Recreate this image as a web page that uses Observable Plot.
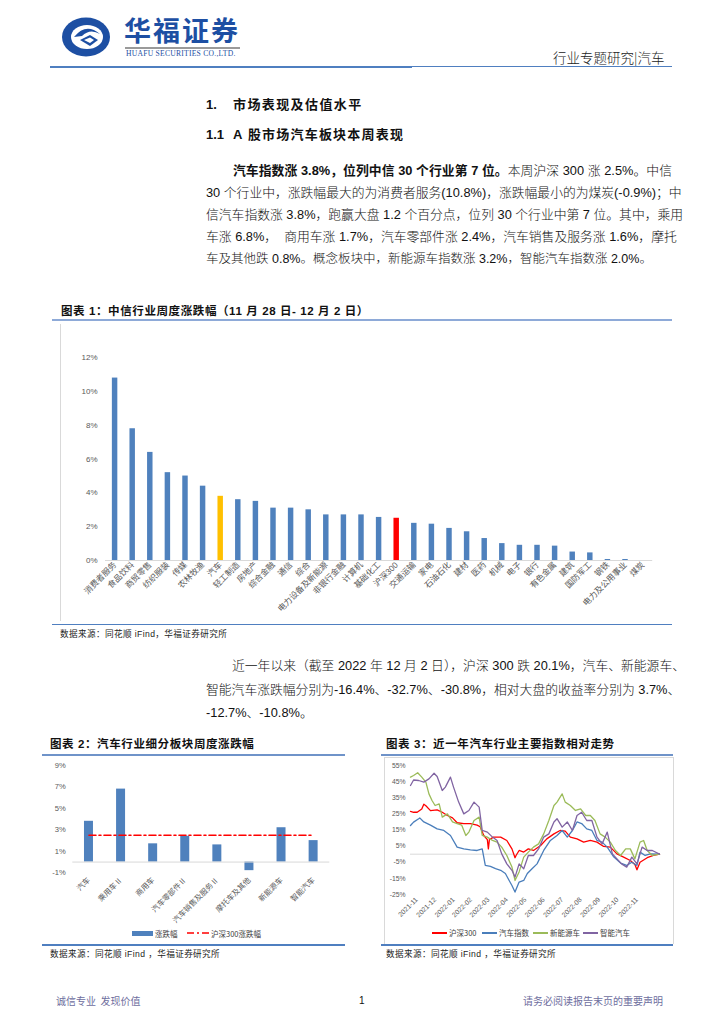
<!DOCTYPE html>
<html>
<head>
<meta charset="utf-8">
<script src="https://cdn.jsdelivr.net/npm/d3@7"></script>
<script src="https://cdn.jsdelivr.net/npm/@observablehq/plot@0.6"></script>
<style>
  html,body{margin:0;padding:0;background:#fff;}
  body{width:724px;height:1024px;position:relative;overflow:hidden;font-family:"Liberation Sans","Noto Sans CJK SC",sans-serif;color:#111;}
  .abs{position:absolute;white-space:nowrap;}
  .ln{position:absolute;white-space:nowrap;font-size:12.8px;line-height:16px;height:16px;text-align:justify;text-align-last:justify;font-weight:300;}
  .ln b{font-weight:bold;}
  .hd{position:absolute;white-space:nowrap;font-weight:bold;font-size:13px;line-height:16px;}
  .ft{position:absolute;white-space:nowrap;font-weight:bold;font-size:11.5px;line-height:14px;letter-spacing:0.6px;}
  .src{position:absolute;white-space:nowrap;font-size:8.6px;line-height:12px;color:#222;letter-spacing:0.4px;}
  .rule{position:absolute;}
  .leg{position:absolute;white-space:nowrap;font-size:7.5px;line-height:10px;color:#404040;font-family:"Noto Sans CJK SC",sans-serif;}
</style>
</head>
<body>
<!-- header -->
<svg class="abs" style="left:60px;top:16px" width="52" height="42" viewBox="0 0 52 42">
  <ellipse cx="26" cy="21" rx="24" ry="19.5" fill="#1d4fa3"/>
  <ellipse cx="27" cy="21" rx="16" ry="12" fill="#fff"/>
  <path d="M14 21 Q26 6 40 18 Q30 12 22 20 Z" fill="#1d4fa3"/>
  <path d="M20 24 L30 19 L38 24 L30 30 Z" fill="#1d4fa3"/>
  <path d="M24 24 L30 21.5 L34 24 L30 27 Z" fill="#fff"/>
</svg>
<div class="abs" style="left:124px;top:13px;font-size:27px;line-height:34px;font-weight:bold;color:#1d4fa3;letter-spacing:2px;font-family:'Noto Sans CJK SC'">华福证券</div>
<div class="rule" style="left:125px;top:47px;width:115px;height:1.5px;background:#9a9a9a"></div>
<div class="abs" style="left:126px;top:49px;font-size:7.6px;line-height:9px;color:#1d4fa3;font-family:'Liberation Serif';letter-spacing:0.25px">HUAFU SECURITIES CO.,LTD.</div>
<div class="abs" style="left:553px;top:48px;font-size:13.5px;line-height:18px;color:#222;font-family:'Noto Sans CJK SC';font-weight:300">行业专题研究|汽车</div>
<div class="rule" style="left:50px;top:65.5px;width:362px;height:2.2px;background:#4f7fc0"></div>
<div class="rule" style="left:412px;top:66px;width:260px;height:1.4px;background:#4f7fc0"></div>

<!-- section headings -->
<div class="hd" style="left:206px;top:97px">1.</div>
<div class="hd" style="left:233px;top:97px;letter-spacing:1.4px">市场表现及估值水平</div>
<div class="hd" style="left:206px;top:127px">1.1</div>
<div class="hd" style="left:233px;top:127px;letter-spacing:1.2px">A 股市场汽车板块本周表现</div>

<!-- paragraph 1 -->
<div class="ln" style="left:233px;top:163px;width:439px"><b>汽车指数涨 3.8%，位列中信 30 个行业第 7 位。</b>本周沪深 300 涨 2.5%。中信</div>
<div class="ln" style="left:206px;top:185px;width:466px">30 个行业中，涨跌幅最大的为消费者服务(10.8%)，涨跌幅最小的为煤炭(-0.9%)；中</div>
<div class="ln" style="left:206px;top:207px;width:466px">信汽车指数涨 3.8%，跑赢大盘 1.2 个百分点，位列 30 个行业中第 7 位。其中，乘用</div>
<div class="ln" style="left:206px;top:229px;width:466px">车涨 6.8%，&nbsp;&nbsp;商用车涨 1.7%，汽车零部件涨 2.4%，汽车销售及服务涨 1.6%，摩托</div>
<div class="ln" style="left:206px;top:251px;text-align:left;text-align-last:left;font-size:12.5px">车及其他跌 0.8%。概念板块中，新能源车指数涨 3.2%，智能汽车指数涨 2.0%。</div>

<!-- figure 1 -->
<div class="ft" style="left:61px;top:304px">图表 1：中信行业周度涨跌幅（11 月 28 日- 12 月 2 日）</div>
<div class="rule" style="left:52px;top:319px;width:620px;height:1.5px;background:#8eaad8"></div>
<div class="rule" style="left:60px;top:324px;width:1px;height:297px;background:#d9d9d9"></div>
<div id="c1" class="abs" style="left:60px;top:325px"></div>
<div class="rule" style="left:52px;top:623.5px;width:620px;height:1.5px;background:#4f7fc0"></div>
<div class="src" style="left:60px;top:628px">数据来源：同花顺 iFind，华福证券研究所</div>

<!-- paragraph 2 -->
<div class="ln" style="left:232px;top:658px;width:432px">近一年以来（截至 2022 年 12 月 2 日），沪深 300 跌 20.1%，汽车、新能源车、</div>
<div class="ln" style="left:206px;top:682px;width:466px">智能汽车涨跌幅分别为-16.4%、-32.7%、-30.8%，相对大盘的收益率分别为 3.7%、</div>
<div class="ln" style="left:206px;top:705px;text-align:left;text-align-last:left">-12.7%、-10.8%。</div>

<!-- figure 2 -->
<div class="ft" style="left:50px;top:737px">图表 2：汽车行业细分板块周度涨跌幅</div>
<div class="rule" style="left:42px;top:754px;width:303px;height:2px;background:#6f93c9"></div>
<div id="c2" class="abs" style="left:40px;top:757px"></div>
<div class="abs" style="left:132px;top:931px;width:21px;height:5px;background:#4f81bd"></div>
<div class="leg" style="left:155px;top:928.5px">涨跌幅</div>
<svg class="abs" style="left:186px;top:930px" width="24" height="6"><line x1="1" y1="3" x2="23" y2="3" stroke="#ff0000" stroke-width="1.6" stroke-dasharray="7,3,2,3"/></svg>
<div class="leg" style="left:211px;top:928.5px">沪深300涨跌幅</div>
<div class="rule" style="left:42px;top:944px;width:303px;height:1.5px;background:#4f7fc0"></div>
<div class="src" style="left:50px;top:948px">数据来源：同花顺 iFind ，华福证券研究所</div>

<!-- figure 3 -->
<div class="ft" style="left:386px;top:737px">图表 3：近一年汽车行业主要指数相对走势</div>
<div class="rule" style="left:381px;top:754px;width:292px;height:2px;background:#6f93c9"></div>
<div class="abs" style="left:384px;top:757px;width:288px;height:186px;border:1px solid #d9d9d9;border-bottom:none"></div>
<div id="c3" class="abs" style="left:385px;top:757px"></div>
<div id="leg3"></div>
<div class="rule" style="left:381px;top:944px;width:292px;height:1.5px;background:#4f7fc0"></div>
<div class="src" style="left:386px;top:948px">数据来源：同花顺 iFind ，华福证券研究所</div>

<!-- footer -->
<div class="abs" style="left:56px;top:995px;font-size:10px;line-height:12px;color:#6e6e9e;font-family:'Noto Sans CJK SC'">诚信专业&nbsp;&nbsp;发现价值</div>
<div class="abs" style="left:359px;top:995px;font-size:10px;line-height:12px;color:#111">1</div>
<div class="abs" style="left:523px;top:995px;font-size:10px;line-height:12px;color:#6e6e9e;font-family:'Noto Sans CJK SC'">请务必阅读报告末页的重要声明</div>

<script>
// ---------- Figure 1 data ----------
const industries = ["消费者服务","食品饮料","商贸零售","纺织服装","传媒","农林牧渔","汽车","轻工制造","房地产","综合金融","通信","综合","电力设备及新能源","非银行金融","计算机","基础化工","沪深300","交通运输","家电","石油石化","建材","医药","机械","电子","银行","有色金属","建筑","国防军工","钢铁","电力及公用事业","煤炭"];
const weeklyChange = [10.8,7.8,6.4,5.2,5.0,4.4,3.8,3.6,3.5,3.1,3.1,3.0,2.7,2.7,2.7,2.55,2.5,2.2,2.15,1.9,1.7,1.3,1.0,0.9,0.9,0.85,0.5,0.45,0.06,0.06,-0.9];
const yTicks1 = [0,2,4,6,8,10,12];

// ---------- Figure 2 data ----------
const autoSectors = ["汽车","乘用车Ⅱ","商用车","汽车零部件Ⅱ","汽车销售及服务Ⅱ","摩托车及其他","新能源车","智能汽车"];
const sectorChange = [3.8,6.8,1.7,2.4,1.6,-0.8,3.2,2.0];
const hs300Week = 2.5;
const yTicks2 = [-1,1,3,5,7,9];

// ---------- Figure 3 data (trading-day index, relative %) ----------
const hs300Series = [[0,26.5],[3,26],[6.5,26],[11,28],[13,31],[15,30],[19.5,27],[26,27.5],[31,26],[36,24],[41,22.5],[45.5,19.5],[52,19],[58.5,19],[65,18],[68,17],[71.5,11.6],[75,9],[76,3.3],[77,9],[81,10.6],[88,10.6],[94,8.5],[99,3.3],[102,-2.2],[103,-0.8],[106,2.3],[110.5,1.3],[115,3.3],[120,2.3],[127,5.4],[133,9.5],[140,12.6],[146,14.7],[151,14.3],[156,10.6],[162.5,9.5],[169,7.5],[175.5,8.5],[182,7.5],[188.5,4.8],[195,4.4],[201.5,0.2],[208,-1.8],[214.5,-3.9],[219,-6.4],[221,-9.7],[224,-5],[231,-2.2],[237,-0.8],[243,0]];
const autoSeries = [[0,17.8],[3,19.9],[8,22],[9,22.5],[13,20],[19.5,18],[26,15.7],[32.5,14.7],[39,11.6],[45.5,4.4],[52,3.3],[58.5,2.7],[65,2.3],[70,3.3],[73,-7],[78,-7.6],[83,-9],[88,-10],[92.6,-12],[96,-16],[99,-19.4],[102,-23.5],[106,-17.3],[110.5,-16.3],[114,-12],[118.6,-9],[123.5,-6],[130,2.3],[136.5,8.5],[143,11.6],[148,14.7],[153,10.6],[158,14.7],[162.5,20],[167,19],[172,15.7],[177,14.7],[182,8.5],[187,7.5],[192,4.4],[198,-1.4],[205,-5.5],[211,-7],[216,-5],[221,-7],[224,1.3],[229,-0.8],[234,0.2],[243,0]];
const nevSeries = [[0,47.8],[3,48.8],[7,50.5],[11,47.8],[15,44.7],[18,37.4],[21,33.3],[24,30.2],[28,31.2],[31,23],[36,25],[41,20],[45.5,19],[50,18],[54,11.6],[57,13.7],[62,20.9],[67,23],[70,11.6],[75,10.6],[80,8.5],[84.5,7.5],[89,4.4],[94,-0.8],[99,-8],[102,-16.3],[106,-11],[110.5,-1.8],[115,1.3],[120,4.4],[125,6.4],[130,12.6],[135,20.9],[140,30.2],[143,32.3],[148,37.4],[151,32.3],[156,30.2],[161,27.1],[166,28.1],[171,24],[175.5,24],[180,20.9],[185,12.6],[190,10.6],[195,7.5],[200,2.3],[205,-0.8],[210,3.3],[214.5,3.3],[219,-2.9],[224,7.5],[227.5,8.5],[231,2.3],[236,-0.8],[243,0]];
const smartSeries = [[0,42.6],[3,46],[8,45.7],[13,44.7],[18,46.7],[23,50.2],[26,48.2],[31,39.5],[34,41.6],[39,47.8],[42,41.6],[47,32.3],[52,25],[57,27.1],[62,32.3],[67,29.2],[70,14.7],[75,13.7],[80,10.6],[84.5,8.5],[89,0.2],[94,-6],[99,-10],[102,-14.2],[106,-6],[110.5,-9],[115,-0.8],[120,-0.8],[125,3.3],[130,10.6],[135,12.6],[140,20],[143,22],[148,16.8],[153,20],[158,14.7],[162.5,24],[167,26],[172,20.9],[177,20.9],[182,10.6],[187,6.4],[192,13.7],[197,0.2],[201.5,-2.9],[206,-6],[211,-8],[216,-1.8],[221,-6],[226,4.4],[231,2.3],[236,2.3],[243,0]];
const seriesNames = ["沪深300","汽车指数","新能源车","智能汽车"];
const seriesColors = ["#ff0000","#4a7ebb","#9bbb59","#8064a2"];
const monthTickDays = [6,24,42,59,76,94,112,130,148,166,184,202,221];
const monthTickLabels = ["2021-11","2021-12","2022-01","2022-02","2022-03","2022-04","2022-05","2022-06","2022-07","2022-08","2022-09","2022-10","2022-11"];
const yTicks3 = [-25,-15,-5,5,15,25,35,45,55];

const cjk = "'Liberation Sans','Noto Sans CJK SC',sans-serif";

// ---------- Figure 1 ----------
const data1 = industries.map((c, i) => ({c, v: weeklyChange[i]}));
const fill1 = c => c === "汽车" ? "#ffc000" : c === "沪深300" ? "#ff0000" : "#4f81bd";
document.getElementById("c1").append(Plot.plot({
  width: 612, height: 295,
  marginTop: 32.3, marginBottom: 60, marginLeft: 45, marginRight: 19.8,
  style: {fontFamily: cjk, fontSize: "8.3px", color: "#595959", background: "transparent", overflow: "visible"},
  x: {domain: industries, paddingInner: 0.69, paddingOuter: 0.39, round: false, label: null},
  y: {domain: [0, 12], label: null},
  color: {type: "identity"},
  marks: [
    Plot.barY(data1, {x: "c", y: "v", fill: d => fill1(d.c), clip: true}),
    Plot.ruleY([0], {stroke: "#d9d9d9", strokeWidth: 1}),
    Plot.axisY(yTicks1, {tickSize: 0, tickPadding: 8, tickFormat: d => d + "%", fontSize: 8, fill: "#595959"}),
    Plot.axisX({tickSize: 0, tickPadding: 3, tickRotate: -45, fill: "#595959"})
  ]
}));

// ---------- Figure 2 ----------
const data2 = autoSectors.map((c, i) => ({c, v: sectorChange[i]}));
document.getElementById("c2").append(Plot.plot({
  width: 305, height: 187,
  marginTop: 8, marginBottom: 71.7, marginLeft: 32.3, marginRight: 15.7,
  style: {fontFamily: cjk, fontSize: "7.6px", color: "#595959", background: "transparent", overflow: "visible"},
  x: {domain: autoSectors, paddingInner: 0.72, paddingOuter: 0.364, round: false, label: null},
  y: {domain: [-1, 9], label: null},
  marks: [
    Plot.barY(data2, {x: "c", y: "v", fill: "#4f81bd"}),
    Plot.ruleY([0], {stroke: "#d9d9d9", strokeWidth: 1}),
    Plot.lineY(autoSectors, {x: d => d, y: () => hs300Week, stroke: "#ff0000", strokeWidth: 1.6, strokeDasharray: "7,3,2,3"}),
    Plot.axisY(yTicks2, {tickSize: 0, tickPadding: 7, tickFormat: d => d + "%", fill: "#595959"}),
    Plot.axisX({tickSize: 0, tickPadding: 6, tickRotate: -45, fill: "#595959"})
  ]
}));

// ---------- Figure 3 ----------
const allSeries = [hs300Series, autoSeries, nevSeries, smartSeries];
const lineData = allSeries.flatMap((s, k) => s.map(([d, v]) => ({d, v, name: seriesNames[k]})));
document.getElementById("c3").append(Plot.plot({
  width: 288, height: 187,
  marginTop: 8, marginBottom: 50, marginLeft: 25, marginRight: 14,
  style: {fontFamily: cjk, fontSize: "6.8px", color: "#595959", background: "transparent", overflow: "visible"},
  x: {domain: [0, 243], label: null},
  y: {domain: [-25, 55], label: null},
  color: {domain: seriesNames, range: seriesColors},
  marks: [
    Plot.ruleY([0], {stroke: "#d9d9d9", strokeWidth: 1}),
    Plot.line(lineData, {x: "d", y: "v", z: "name", stroke: "name", strokeWidth: 1.3}),
    Plot.axisY(yTicks3, {tickSize: 0, tickPadding: 5, tickFormat: d => d + "%", fill: "#595959"}),
    Plot.axisX(monthTickDays, {tickSize: 0, tickPadding: 4, tickRotate: -45, fill: "#595959", tickFormat: (d, i) => monthTickLabels[i]})
  ]
}));

// legend for figure 3
const legX = [432, 482, 533, 583];
const leg3 = document.getElementById("leg3");
seriesNames.forEach((n, i) => {
  const sw = document.createElement("div");
  sw.className = "abs";
  sw.style.cssText = `left:${legX[i]}px;top:932px;width:15px;height:2px;background:${seriesColors[i]}`;
  leg3.append(sw);
  const t = document.createElement("div");
  t.className = "leg";
  t.style.cssText = `left:${legX[i] + 17}px;top:928px;`;
  t.textContent = n;
  leg3.append(t);
});
</script>
</body>
</html>
